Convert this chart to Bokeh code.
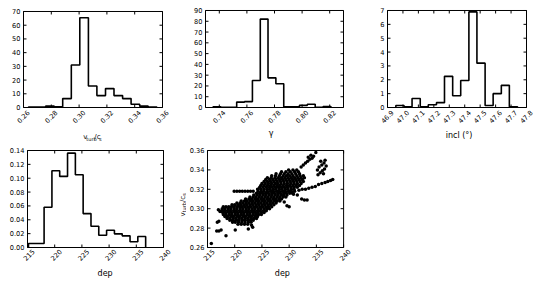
import math
from bokeh.plotting import figure
from bokeh.models import Range1d, FixedTicker, LinearAxis, PrintfTickFormatter, ColumnDataSource
from bokeh.core.properties import value
from bokeh.layouts import column, row
from bokeh.embed import file_html
from bokeh.resources import INLINE

# ---------------- data ----------------
# panel 1: v_turb / c_s histogram (density)
vt_edges = [0.2636, 0.2698, 0.2759, 0.2821, 0.2882, 0.2944, 0.3005, 0.3067,
            0.3128, 0.3190, 0.3251, 0.3313, 0.3374, 0.3436, 0.3497, 0.3559]
vt_heights = [0.3, 0.3, 1.0, 0.5, 6.5, 31.0, 65.4, 15.7, 8.7, 13.8, 8.7, 6.5, 2.4, 1.0, 0.3]
vt_xticks = [0.26, 0.28, 0.30, 0.32, 0.34, 0.36]
vt_xlabels = ["0.26", "0.28", "0.30", "0.32", "0.34", "0.36"]
vt_yticks = [0, 10, 20, 30, 40, 50, 60, 70]

# panel 2: gamma histogram
g_edges = [0.7355, 0.7412, 0.7469, 0.7526, 0.7583, 0.7640, 0.7697, 0.7753,
           0.7810, 0.7867, 0.7924, 0.7981, 0.8038, 0.8095, 0.8152, 0.8209]
g_heights = [0.6, 0.2, 0.2, 5.0, 5.5, 25.0, 82.0, 27.5, 22.0, 0.7, 0.7, 2.0, 3.0, 0.3, 1.0]
g_xticks = [0.74, 0.76, 0.78, 0.80, 0.82]
g_xlabels = ["0.74", "0.76", "0.78", "0.80", "0.82"]
g_yticks = [0, 10, 20, 30, 40, 50, 60, 70, 80, 90]

# panel 3: inclination histogram
i_edges = [46.954, 47.007, 47.059, 47.112, 47.164, 47.217, 47.269, 47.322,
           47.374, 47.427, 47.479, 47.532, 47.584, 47.637, 47.689, 47.742]
i_heights = [0.15, 0.05, 0.65, 0.05, 0.2, 0.35, 2.25, 0.85, 1.95, 6.9, 3.2, 0.15, 1.0, 1.6, 0.05]
i_xticks = [46.9, 47.0, 47.1, 47.2, 47.3, 47.4, 47.5, 47.6, 47.7, 47.8]
i_xlabels = ["46.9", "47.0", "47.1", "47.2", "47.3", "47.4", "47.5", "47.6", "47.7", "47.8"]
i_yticks = [0, 1, 2, 3, 4, 5, 6, 7]

# panel 4: dep histogram
d_edges = [215.18, 216.62, 218.05, 219.49, 220.92, 222.36, 223.80, 225.23,
           226.67, 228.10, 229.54, 230.98, 232.41, 233.85, 235.28, 236.72]
d_heights = [0.0058, 0.0058, 0.058, 0.1108, 0.1026, 0.1362, 0.105, 0.0489,
             0.0307, 0.0177, 0.0249, 0.0197, 0.0168, 0.0082, 0.0158]
d_xticks = [215, 220, 225, 230, 235, 240]
d_xlabels = ["215", "220", "225", "230", "235", "240"]
d_yticks = [0.0, 0.02, 0.04, 0.06, 0.08, 0.10, 0.12, 0.14]

# panel 5: scatter dep vs v_turb/c_s  (rows: v value, dep values)
scatter_rows = [
    (0.284, [220.6, 221.2, 221.8, 222.4]),
    (0.286, [219.6, 220.1, 220.7, 221.3, 221.9, 222.5, 223.0]),
    (0.288, [219.1, 219.6, 220.2, 220.7, 221.3, 221.8, 222.4, 222.9, 223.4]),
    (0.290, [218.6, 219.1, 219.7, 220.2, 220.8, 221.3, 221.9, 222.4, 223.0, 223.5, 224.0]),
    (0.292, [218.2, 218.7, 219.3, 219.8, 220.4, 220.9, 221.5, 222.0, 222.6, 223.1, 223.7, 224.2]),
    (0.294, [217.9, 218.4, 219.0, 219.5, 220.1, 220.6, 221.2, 221.7, 222.3, 222.8, 223.4, 223.9, 224.4, 224.9]),
    (0.296, [217.8, 218.3, 218.9, 219.4, 220.0, 220.5, 221.1, 221.6, 222.2, 222.7, 223.3, 223.8, 224.3, 224.9, 225.4]),
    (0.298, [217.6, 218.1, 218.7, 219.2, 219.8, 220.3, 220.9, 221.4, 222.0, 222.5, 223.1, 223.6, 224.2, 224.7, 225.3, 225.8]),
    (0.300, [217.7, 218.2, 218.8, 219.3, 219.9, 220.4, 221.0, 221.5, 222.1, 222.6, 223.2, 223.7, 224.3, 224.8, 225.4, 225.9, 226.4]),
    (0.302, [217.9, 218.4, 218.9, 219.4, 219.9, 220.4, 220.9, 221.4, 221.9, 222.4, 222.9, 223.5, 224.0, 224.6, 225.1, 225.7, 226.2, 226.8]),
    (0.304, [219.5, 220.0, 220.6, 221.1, 221.7, 222.2, 222.8, 223.3, 223.9, 224.4, 225.0, 225.5, 226.1, 226.6, 227.2]),
    (0.306, [220.4, 221.0, 221.5, 222.1, 222.6, 223.2, 223.7, 224.3, 224.8, 225.4, 225.9, 226.5, 227.0, 227.6]),
    (0.308, [221.2, 221.8, 222.3, 222.9, 223.4, 224.0, 224.5, 225.1, 225.6, 226.2, 226.7, 227.3, 227.8, 228.3]),
    (0.310, [222.0, 222.6, 223.1, 223.7, 224.2, 224.8, 225.3, 225.9, 226.4, 227.0, 227.5, 228.1, 228.6]),
    (0.312, [222.8, 223.4, 223.9, 224.5, 225.0, 225.6, 226.1, 226.7, 227.2, 227.8, 228.3, 228.9, 229.4]),
    (0.314, [223.5, 224.1, 224.6, 225.2, 225.7, 226.3, 226.8, 227.4, 227.9, 228.5, 229.0, 229.6]),
    (0.316, [224.0, 224.6, 225.1, 225.7, 226.2, 226.8, 227.3, 227.9, 228.4, 229.0, 229.5, 230.1, 230.6]),
    (0.318, [224.3, 224.9, 225.4, 226.0, 226.6, 227.1, 227.7, 228.2, 228.8, 229.3, 229.9, 230.4, 231.0]),
    (0.320, [224.2, 224.8, 225.4, 226.0, 226.5, 227.1, 227.6, 228.2, 228.7, 229.3, 229.8, 230.4, 230.9]),
    (0.322, [224.6, 225.2, 225.8, 226.4, 226.9, 227.5, 228.0, 228.6, 229.1, 229.7, 230.3, 230.9, 231.5]),
    (0.324, [224.8, 225.4, 226.0, 226.6, 227.2, 227.8, 228.3, 228.9, 229.5, 230.1, 230.7, 231.3, 231.9]),
    (0.326, [225.0, 225.6, 226.2, 226.8, 227.4, 227.9, 228.5, 229.1, 229.7, 230.3, 230.9, 231.5, 232.2]),
    (0.328, [225.4, 226.0, 226.6, 227.2, 227.8, 228.4, 229.0, 229.6, 230.2, 230.8, 231.4, 232.0, 232.6]),
    (0.330, [225.7, 226.4, 227.0, 227.6, 228.2, 228.8, 229.4, 230.0, 230.6, 231.2, 231.8, 232.4]),
    (0.332, [226.0, 226.7, 227.4, 228.0, 228.6, 229.2, 229.8, 230.4, 231.0, 231.6, 232.2, 232.8]),
    (0.334, [226.8, 227.5, 228.2, 228.9, 229.5, 230.1, 230.7, 231.4, 232.0, 232.6]),
    (0.336, [227.6, 228.4, 229.1, 229.8, 230.5, 231.2, 231.9]),
    (0.338, [228.6, 229.4, 230.2, 231.0, 231.7]),
    (0.340, [229.9, 230.7, 231.4]),
]
scatter_extra_dep = [215.7, 218.4, 216.7, 217.1, 217.5, 216.8, 217.1, 222.5, 220.1, 217.0, 217.3,
                     223.1, 223.3,
                     219.9, 220.4, 220.9, 221.4, 221.9, 222.4, 222.9, 223.4,
                     232.2, 232.6, 233.0, 233.4, 233.8, 234.2, 233.5, 234.5, 234.9, 234.0,
                     235.3, 235.7, 236.1, 236.5, 235.5, 236.0, 236.4, 235.8, 236.6, 236.8,
                     235.2, 236.3,
                     231.8, 232.4, 233.0, 233.6, 234.2, 234.8, 235.4, 236.0, 236.6, 237.1,
                     237.6, 238.0,
                     230.8, 231.5, 232.3, 232.8, 233.3, 229.6, 230.0, 229.1, 228.9]
scatter_extra_v = [0.264, 0.272, 0.277, 0.277, 0.278, 0.286, 0.287, 0.279, 0.278, 0.299, 0.297,
                   0.283, 0.281,
                   0.318, 0.318, 0.318, 0.318, 0.318, 0.318, 0.318, 0.318,
                   0.343, 0.345, 0.347, 0.349, 0.351, 0.352, 0.353, 0.354, 0.358, 0.355,
                   0.335, 0.337, 0.339, 0.341, 0.343, 0.345, 0.347, 0.349, 0.350, 0.344,
                   0.340, 0.336,
                   0.319, 0.320, 0.320, 0.321, 0.322, 0.323, 0.325, 0.326, 0.327, 0.328,
                   0.329, 0.330,
                   0.315, 0.314, 0.310, 0.309, 0.309, 0.303, 0.302, 0.307, 0.313]
s_yticks = [0.26, 0.28, 0.30, 0.32, 0.34, 0.36]

# ---------------- styling ----------------
FONT = "DejaVu Sans"
TICK_PX = "6.6px"
TICK_LEN = 3


def make_fig(L, F, R, T, FH, B, xr, yr, xticks, xlabels, yticks, yfmt, xfmt, standoff, shift):
    """L/F/R, T/FH/B: borders and size (px) of the visible plot frame."""
    ext = shift + 1   # Bokeh frame reaches a little past the drawn frame on the right
    kx = (xr[1] - xr[0]) / F
    ky = (yr[1] - yr[0]) / FH
    p = figure(width=L + F + R, height=T + FH + B,
               x_range=Range1d(xr[0] - kx, xr[1] + ext * kx),
               y_range=Range1d(yr[0] - ky, yr[1] + ky),
               output_backend="svg", toolbar_location=None, x_axis_location=None,
               min_border_left=L - 1, min_border_right=R - ext,
               min_border_top=T - 1, min_border_bottom=B - 1)
    p.xgrid.visible = False
    p.ygrid.visible = False
    p.outline_line_color = None
    p.background_fill_color = "white"
    p.border_fill_color = "white"
    # left axis: tick labels
    ya = p.yaxis[0]
    ya.ticker = FixedTicker(ticks=yticks)
    ya.formatter = PrintfTickFormatter(format=yfmt)
    ya.major_tick_in = 0
    ya.major_tick_out = 0
    ya.minor_tick_in = 0
    ya.minor_tick_out = 0
    ya.axis_line_color = None
    ya.major_label_standoff = 2
    ya.major_label_text_font = FONT
    ya.major_label_text_font_size = TICK_PX
    ya.major_label_text_color = "black"
    # bottom axis for rotated labels, on a shifted range so labels centre on their ticks
    p.extra_x_ranges = {"lab": Range1d(xr[0] - (1 + shift) * kx, xr[1] + (ext - shift) * kx)}
    xa = LinearAxis(x_range_name="lab", ticker=FixedTicker(ticks=xticks),
                    formatter=PrintfTickFormatter(format=xfmt))
    xa.major_label_overrides = {t: s for t, s in zip(xticks, xlabels)}
    xa.major_tick_in = 0
    xa.major_tick_out = 0
    xa.minor_tick_in = 0
    xa.minor_tick_out = 0
    xa.axis_line_color = None
    xa.major_label_orientation = math.pi / 4
    xa.major_label_standoff = standoff
    xa.major_label_text_font = FONT
    xa.major_label_text_font_size = TICK_PX
    xa.major_label_text_color = "black"
    p.add_layout(xa, "below")
    # plot frame
    p.quad(left=[xr[0]], right=[xr[1]], bottom=[yr[0]], top=[yr[1]],
           fill_color=None, line_color="black", line_width=1)
    # inward ticks on all four edges
    n = len(xticks)
    p.ray(x=xticks, y=[yr[0]] * n, length=TICK_LEN, length_units="screen",
          angle=math.pi / 2, line_color="black", line_width=1)
    p.ray(x=xticks, y=[yr[1]] * n, length=TICK_LEN, length_units="screen",
          angle=-math.pi / 2, line_color="black", line_width=1)
    m = len(yticks)
    p.ray(x=[xr[1]] * m, y=yticks, length=TICK_LEN, length_units="screen",
          angle=math.pi, line_color="black", line_width=1)
    p.ray(x=[xr[0]] * m, y=yticks, length=TICK_LEN, length_units="screen",
          angle=0, line_color="black", line_width=1)
    return p


def step_hist(p, edges, heights):
    xs = [edges[0]]
    ys = [0]
    for i, hgt in enumerate(heights):
        xs += [edges[i], edges[i + 1]]
        ys += [hgt, hgt]
    xs.append(edges[-1])
    ys.append(0)
    p.line(xs, ys, line_color="black", line_width=1.6)


def strip(w, h, texts, xs, ys, sizes, angle=0.0, align="left"):
    s = figure(width=w, height=h, x_range=Range1d(0, w), y_range=Range1d(0, h),
               output_backend="svg", toolbar_location=None,
               x_axis_location=None, y_axis_location=None,
               min_border_left=0, min_border_right=0, min_border_top=0, min_border_bottom=0)
    s.xgrid.visible = False
    s.ygrid.visible = False
    s.outline_line_color = None
    s.background_fill_color = "white"
    s.border_fill_color = "white"
    src = ColumnDataSource(dict(x=xs, y=ys, t=texts, fs=sizes))
    s.text(x="x", y="y", text="t", source=src, text_font=value(FONT), text_font_size="fs",
           text_color="black", text_align=align, text_baseline="alphabetic", angle=angle)
    return s


# ---------------- row 1 ----------------
p1 = make_fig(23, 139, 28, 11, 97, 20, (0.26, 0.36), (0, 70), vt_xticks, vt_xlabels,
              vt_yticks, "%d", "%.2f", 3, 5)
step_hist(p1, vt_edges, vt_heights)
t1 = strip(190, 14, ["v", "turb", "/c", "s"], [79.0, 83.1, 93.5, 99.7], [6, 4, 6, 4],
           ["7px", "5px", "7px", "5px"])

p2 = make_fig(15, 138, 30, 10, 98, 20, (0.73, 0.83), (0, 90), g_xticks, g_xlabels,
              g_yticks, "%d", "%.2f", 3, 5)
step_hist(p2, g_edges, g_heights)
t2 = strip(183, 14, ["γ"], [84], [9], ["8px"], align="center")

p3 = make_fig(14, 139, 15, 10, 98, 20, (46.9, 47.8), (0, 7), i_xticks, i_xlabels,
              i_yticks, "%d", "%.1f", 3, 5)
step_hist(p3, i_edges, i_heights)
t3 = strip(168, 14, ["incl (°)"], [83.5], [7], ["8px"], align="center")

# ---------------- row 2 ----------------
p4 = make_fig(27, 136, 11, 8, 97, 18, (215, 240), (0, 0.14), d_xticks, d_xlabels,
              d_yticks, "%.2f", "%d", 2, 6)
step_hist(p4, d_edges, d_heights)
t4 = strip(174, 18, ["dep"], [95], [10.5], ["8px"], align="center")

ys5 = strip(12, 141, ["v", "turb", "/c", "s"], [8, 9.5, 8, 9.5], [67, 71.1, 81.5, 87.7],
            ["7px", "5px", "7px", "5px"], angle=math.pi / 2)

p5 = make_fig(19, 138, 10, 8, 97, 18, (215, 240), (0.26, 0.36), d_xticks, d_xlabels,
              s_yticks, "%.2f", "%d", 2, 6)
sx, sy = [], []
for vv, deps in scatter_rows:
    for dd in deps:
        sx.append(dd)
        sy.append(vv)
sx += scatter_extra_dep
sy += scatter_extra_v
p5.scatter(sx, sy, size=3.5, fill_color="black", line_color=None)
t5 = strip(167, 18, ["dep"], [88], [10.5], ["8px"], align="center")

layout = column(
    row(column(p1, t1), column(p2, t2), column(p3, t3)),
    row(column(p4, t4), ys5, column(p5, t5)),
)
open("out.html", "w").write(file_html(layout, INLINE))
